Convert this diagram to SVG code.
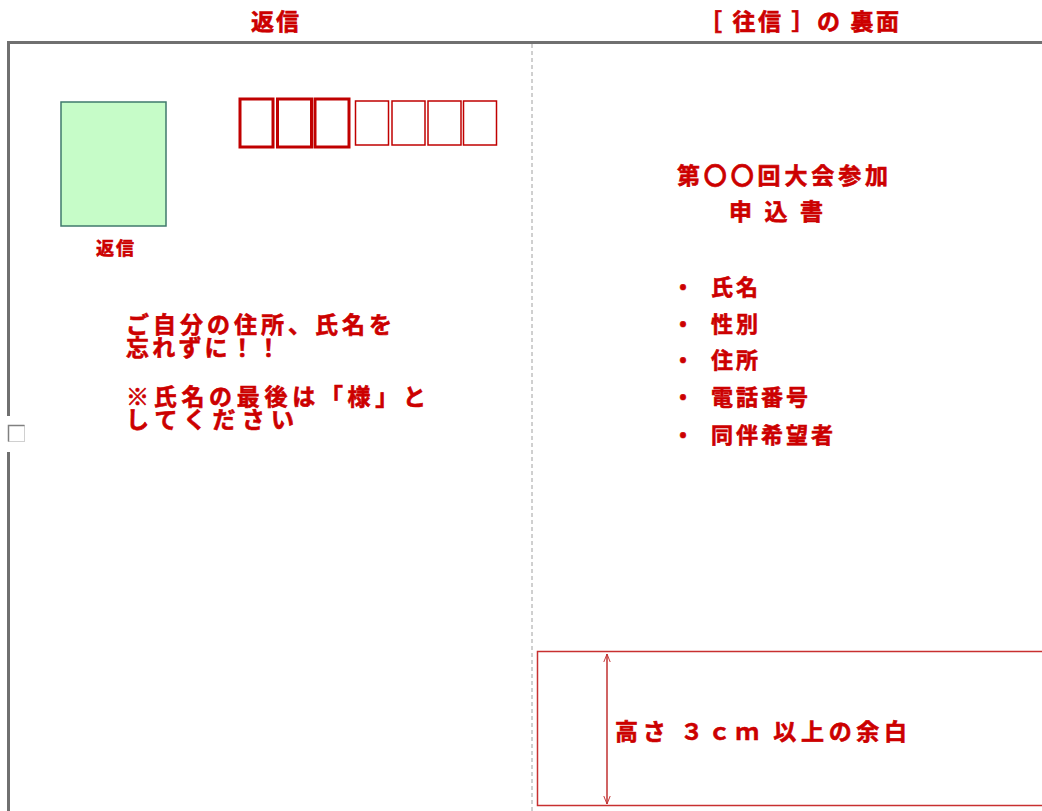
<svg xmlns="http://www.w3.org/2000/svg" width="1042" height="811" viewBox="0 0 1042 811">
<style>
.t{font-family:"Noto Sans CJK JP","Noto Sans",sans-serif;font-weight:bold;fill:#cc0000;stroke:#cc0000;stroke-width:0.6}
.zip{fill:none;stroke:#c00000}
</style>
<defs>
<marker id="ah" viewBox="0 0 10 10" refX="10" refY="5" markerWidth="8" markerHeight="8" orient="auto-start-reverse" markerUnits="userSpaceOnUse">
<path d="M0,1 L10,5 L0,9" fill="none" stroke="#c03030" stroke-width="1.2"/>
</marker>
</defs>
<rect width="1042" height="811" fill="#fff"/>
<g id="frame">
<line x1="8" y1="42.5" x2="1042" y2="42.5" stroke="#707070" stroke-width="3"/>
<line x1="8.5" y1="41" x2="8.5" y2="416" stroke="#707070" stroke-width="3"/>
<line x1="8.5" y1="452" x2="8.5" y2="811" stroke="#707070" stroke-width="3"/>
<rect x="8.5" y="425.5" width="16" height="16" fill="#fff" stroke="#d0d0d0"/>
<path d="M8.5,441.5 V425.5 H24.5" fill="none" stroke="#808080" stroke-width="1.5"/>
<line x1="532" y1="44" x2="532" y2="811" stroke="#a0a0a0" stroke-width="1" stroke-dasharray="4,3"/>
</g>
<g id="headers">
<text class="t" x="251" y="30" font-size="23" textLength="48" lengthAdjust="spacing">返信</text>
<text class="t" x="699" y="30" font-size="23" textLength="200" lengthAdjust="spacing">［ 往信 ］の 裏面</text>
</g>
<g id="stamp">
<rect x="61" y="102" width="105" height="124" fill="#c6fcc8" stroke="#3f7a6c" stroke-width="1.5"/>
<text class="t" x="96" y="255" font-size="18" textLength="38" lengthAdjust="spacing">返信</text>
</g>
<g id="zipcode">
<rect class="zip" x="240" y="99" width="33" height="48" stroke-width="3"/>
<rect class="zip" x="277.5" y="99" width="34" height="48" stroke-width="3"/>
<rect class="zip" x="315" y="99" width="34" height="48" stroke-width="3"/>
<rect class="zip" x="355.5" y="101" width="33" height="44" stroke-width="1.5" stroke="#c83040"/>
<rect class="zip" x="392" y="101" width="33" height="44" stroke-width="1.5" stroke="#c83040"/>
<rect class="zip" x="428" y="101" width="33" height="44" stroke-width="1.5" stroke="#c83040"/>
<rect class="zip" x="463.5" y="101" width="33" height="44" stroke-width="1.5" stroke="#c83040"/>
</g>
<g id="note" class="t" font-size="23">
<text><tspan x="126" y="333" textLength="266" lengthAdjust="spacing">ご自分の住所、氏名を</tspan><tspan x="126" y="356" textLength="154" lengthAdjust="spacing">忘れずに！！</tspan></text>
<text><tspan x="126" y="405" textLength="300" lengthAdjust="spacing">※氏名の最後は「様」と</tspan><tspan x="126" y="428" textLength="168" lengthAdjust="spacing">してください</tspan></text>
</g>
<g id="form">
<text class="t" x="677" y="184" font-size="23" textLength="211" lengthAdjust="spacing">第〇〇回大会参加</text>
<text class="t" x="729" y="220" font-size="23" textLength="94" lengthAdjust="spacing">申 込 書</text>
<g class="t" font-size="22" letter-spacing="3">
<text x="672" y="295">・</text><text x="711" y="295">氏名</text>
<text x="672" y="332">・</text><text x="711" y="332">性別</text>
<text x="672" y="368">・</text><text x="711" y="368">住所</text>
<text x="672" y="405">・</text><text x="711" y="405">電話番号</text>
<text x="672" y="443">・</text><text x="711" y="443">同伴希望者</text>
</g>
</g>
<g id="margin">
<rect x="537.5" y="651.5" width="520" height="154" fill="none" stroke="#c83030" stroke-width="1.5"/>
<text class="t" x="615" y="740" font-size="23" textLength="292" lengthAdjust="spacing">高さ ３ｃｍ 以上の余白</text>
</g>
<g id="connectors">
<line x1="607" y1="654" x2="607" y2="804" stroke="#c03030" stroke-width="1.5" marker-start="url(#ah)" marker-end="url(#ah)"/>
</g>
</svg>
